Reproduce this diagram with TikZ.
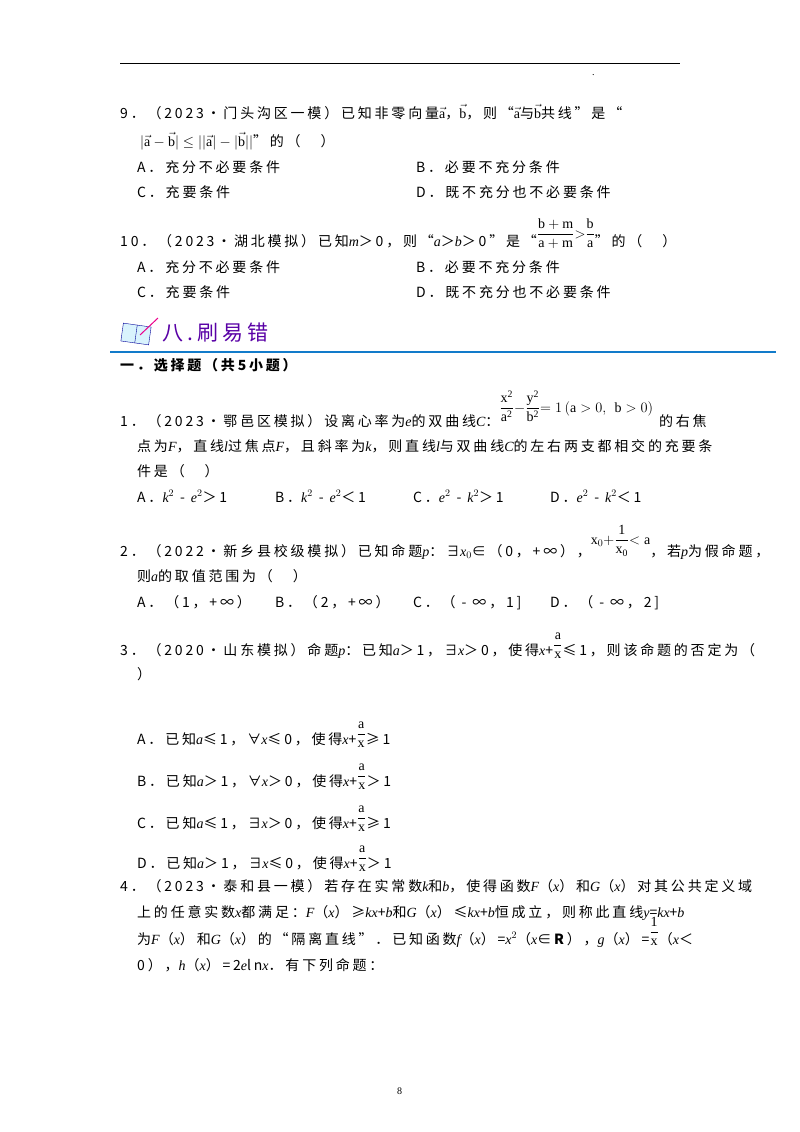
\documentclass[tikz,border=0pt]{standalone}
\usepackage{fontspec}
\setmainfont{Liberation Serif}
\newfontfamily\cjk[LetterSpace=20]{Noto Sans CJK SC}
\newfontfamily\lat{Liberation Serif}
\newcommand{\vi}[1]{{\lat\itshape #1}}
\newcommand{\fr}[2]{$\displaystyle\frac{\mathrm{#1}}{\mathrm{#2}}$}
\begin{document}
\begin{tikzpicture}[x=1pt,y=-1pt,
  t/.style={anchor=base west,inner sep=0pt,font=\cjk\fontsize{14}{16}\selectfont},
  s/.style={anchor=base west,inner sep=0pt,font=\lat\fontsize{10}{12}\selectfont}]
\useasboundingbox[fill=white] (0,0) rectangle (800,1132);
\draw[line width=0.8pt] (120,63) -- (680,63);
\node[s] (dot) at (592,76) {.};
% Q9
\node[t] (q9a) at (120,118) {9．（2023•门头沟区一模）已知非零向量$\vec{\mathrm{a}}$，$\vec{\mathrm{b}}$，则“$\vec{\mathrm{a}}$与$\vec{\mathrm{b}}$共线”是“};
\node[t] (q9b) at (140,146) {$|\vec{\mathrm{a}}-\vec{\mathrm{b}}|\leq||\vec{\mathrm{a}}|-|\vec{\mathrm{b}}||$”的（\quad\ ）};
\node[t] (q9A) at (137,172) {A．充分不必要条件};
\node[t] (q9B) at (416,172) {B．必要不充分条件};
\node[t] (q9C) at (137,197) {C．充要条件};
\node[t] (q9D) at (416,197) {D．既不充分也不必要条件};
% Q10
\node[t] (q10) at (120,246) {10．（2023•湖北模拟）已知\vi{m}＞0，则“\vi{a}＞\vi{b}＞0”是“\raisebox{8pt}{\fr{b+m}{a+m}$>$\fr{b}{a}}”的（\quad\ ）};
\node[t] (q10A) at (137,272) {A．充分不必要条件};
\node[t] (q10B) at (416,272) {B．必要不充分条件};
\node[t] (q10C) at (137,297) {C．充要条件};
\node[t] (q10D) at (416,297) {D．既不充分也不必要条件};
% section header
\node[draw=blue!60!black,fill=cyan!15,minimum width=28pt,minimum height=18pt,rotate=-8,inner sep=0] (icon) at (136,334) {};
\draw[blue!60!black] (icon.north) -- (icon.south);
\draw[magenta,line width=1pt] (140,335) -- (158,318);
\node[anchor=base west,inner sep=0,font=\cjk\fontsize{21}{23}\selectfont,text=violet!70!blue] (title) at (162,340) {八.刷易错};
\draw[cyan!60!blue,line width=1.2pt] (110,352) -- (776,352);
\node[t,font=\cjk\bfseries\fontsize{14}{16}\selectfont] (sec) at (120,370) {一．选择题（共5小题）};
% Q1
\node[t] (q1a) at (120,426) {1．（2023•鄂邑区模拟）设离心率为\vi{e}的双曲线\vi{C}：\raisebox{14pt}{\fr{x^2}{a^2}$-$\fr{y^2}{b^2}$=1\,(\mathrm{a}>0,\ \mathrm{b}>0)$}\hspace{6pt}的右焦};
\node[t] (q1b) at (137,451) {点为\vi{F}，直线\vi{l}过焦点\vi{F}，且斜率为\vi{k}，则直线\vi{l}与双曲线\vi{C}的左右两支都相交的充要条};
\node[t] (q1c) at (137,476) {件是（\quad\ ）};
\node[t] (q1A) at (137,502) {A．\vi{k}$^2$ - \vi{e}$^2$＞1};
\node[t] (q1B) at (275,502) {B．\vi{k}$^2$ - \vi{e}$^2$＜1};
\node[t] (q1C) at (413,502) {C．\vi{e}$^2$ - \vi{k}$^2$＞1};
\node[t] (q1D) at (550,502) {D．\vi{e}$^2$ - \vi{k}$^2$＜1};
% Q2
\node[t] (q2a) at (120,556) {2．（2022•新乡县校级模拟）已知命题\vi{p}：∃\vi{x}$_0$∈（0，+∞），\raisebox{12pt}{$\mathrm{x}_0+$\fr{1}{x_0}$<\mathrm{a}$}，若\vi{p}为假命题，};
\node[t] (q2b) at (137,581) {则\vi{a}的取值范围为（\quad\ ）};
\node[t] (q2A) at (137,607) {A．（1，+∞）};
\node[t] (q2B) at (275,607) {B．（2，+∞）};
\node[t] (q2C) at (413,607) {C．（ - ∞，1]};
\node[t] (q2D) at (550,607) {D．（ - ∞，2]};
% Q3
\node[t] (q3a) at (120,655) {3．（2020•山东模拟）命题\vi{p}：已知\vi{a}＞1，∃\vi{x}＞0，使得\vi{x}+\raisebox{6pt}{\fr{a}{x}}≤1，则该命题的否定为（};
\node[t] (q3b) at (137,679) {）};
\node[t] (q3A) at (137,744) {A．已知\vi{a}≤1，∀\vi{x}≤0，使得\vi{x}+\raisebox{6pt}{\fr{a}{x}}≥1};
\node[t] (q3B) at (137,786) {B．已知\vi{a}＞1，∀\vi{x}＞0，使得\vi{x}+\raisebox{6pt}{\fr{a}{x}}＞1};
\node[t] (q3C) at (137,828) {C．已知\vi{a}≤1，∃\vi{x}＞0，使得\vi{x}+\raisebox{6pt}{\fr{a}{x}}≥1};
\node[t] (q3D) at (137,868) {D．已知\vi{a}＞1，∃\vi{x}≤0，使得\vi{x}+\raisebox{6pt}{\fr{a}{x}}＞1};
% Q4
\node[t] (q4a) at (120,891) {4．（2023•泰和县一模）若存在实常数\vi{k}和\vi{b}，使得函数\vi{F}（\vi{x}）和\vi{G}（\vi{x}）对其公共定义域};
\node[t] (q4b) at (137,917) {上的任意实数\vi{x}都满足：\vi{F}（\vi{x}）≥\vi{kx}+\vi{b}和\vi{G}（\vi{x}）≤\vi{kx}+\vi{b}恒成立，则称此直线\vi{y}=\vi{kx}+\vi{b}};
\node[t] (q4c) at (137,944) {为\vi{F}（\vi{x}）和\vi{G}（\vi{x}）的“隔离直线”．已知函数\vi{f}（\vi{x}）=\vi{x}$^2$（\vi{x}∈\textbf{R}），\vi{g}（\vi{x}）=\raisebox{8pt}{\fr{1}{x}}（\vi{x}＜};
\node[t] (q4d) at (137,970) {0），\vi{h}（\vi{x}）=2\vi{e}ln\vi{x}．有下列命题：};
\node[s] (pg) at (397,1094) {8};
\end{tikzpicture}
\end{document}
